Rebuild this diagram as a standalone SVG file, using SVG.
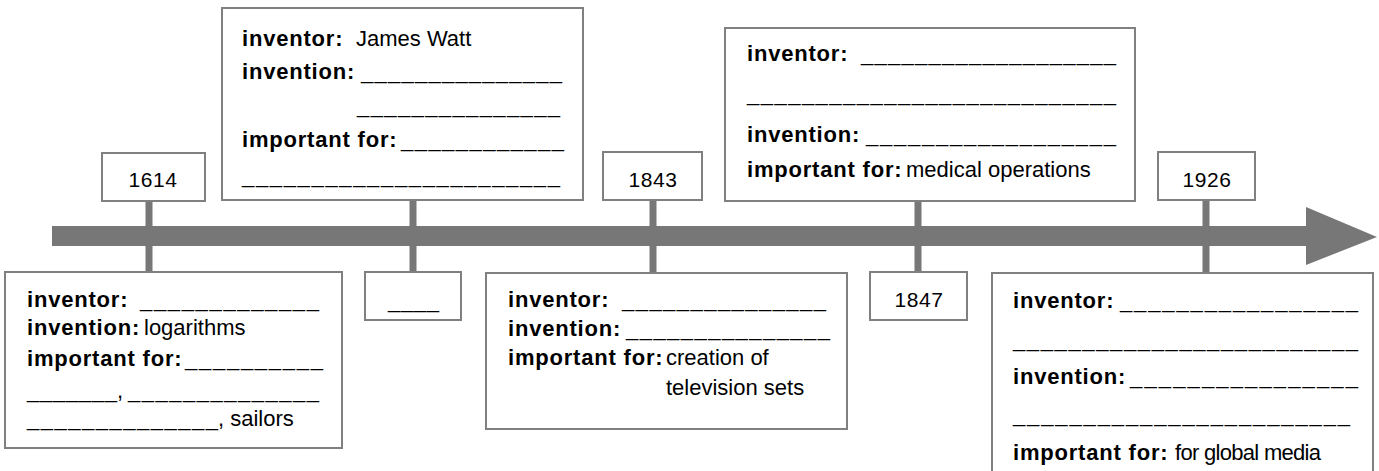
<svg xmlns="http://www.w3.org/2000/svg" width="1379" height="471" viewBox="0 0 1379 471">
<style>
text{font-family:"Liberation Sans",Arial,sans-serif;font-size:22px;fill:#000}
.b{font-weight:bold;letter-spacing:0.8px}
.y{font-size:21px;letter-spacing:0.6px;text-anchor:middle}
.box{fill:#fff;stroke:#808080;stroke-width:2}
.tick{stroke:#777;stroke-width:7}
</style>
<rect width="1379" height="471" fill="#fff"/>
<g id="connectors">
<rect x="52" y="226" width="1256" height="20" fill="#777"/>
<polygon points="1306,207 1377,237 1306,265" fill="#777"/>
<line class="tick" x1="149" y1="201" x2="149" y2="272"/>
<line class="tick" x1="413" y1="200" x2="413" y2="272"/>
<line class="tick" x1="653" y1="200" x2="653" y2="273"/>
<line class="tick" x1="918" y1="201" x2="918" y2="272"/>
<line class="tick" x1="1206" y1="200" x2="1206" y2="273"/>
</g>
<g id="y1614">
<rect class="box" x="102" y="153" width="103" height="48"/>
<text class="y" x="153" y="187">1614</text>
</g>
<g id="logarithms">
<rect class="box" x="5" y="272" width="337" height="176"/>
<text class="b" x="27" y="307">inventor:</text>
<text x="140" y="307" textLength="179" lengthAdjust="spacing">_____________</text>
<text class="b" x="27" y="335">invention:</text>
<text x="144" y="335">logarithms</text>
<text class="b" x="27" y="366">important for:</text>
<text x="185" y="366" textLength="138" lengthAdjust="spacing">__________</text>
<text x="27" y="398" textLength="90" lengthAdjust="spacing">_______</text>
<text x="117" y="398">,</text>
<text x="128" y="398" textLength="191" lengthAdjust="spacing">______________</text>
<text x="27" y="426" textLength="191" lengthAdjust="spacing">______________</text>
<text x="218" y="426">, sailors</text>
</g>
<g id="watt">
<rect class="box" x="222" y="8" width="361" height="192"/>
<text class="b" x="242" y="46">inventor:</text>
<text x="356" y="46">James Watt</text>
<text class="b" x="242" y="79">invention:</text>
<text x="361" y="79" textLength="201" lengthAdjust="spacing">_______________</text>
<text x="357" y="113" textLength="203" lengthAdjust="spacing">_______________</text>
<text class="b" x="242" y="147">important for:</text>
<text x="401" y="147" textLength="163" lengthAdjust="spacing">____________</text>
<text x="242" y="183" textLength="318" lengthAdjust="spacing">_______________________</text>
</g>
<g id="yblank">
<rect class="box" x="365" y="272" width="96" height="48"/>
<text x="388" y="308" textLength="51" lengthAdjust="spacing">____</text>
</g>
<g id="y1843">
<rect class="box" x="603" y="152" width="99" height="48"/>
<text class="y" x="653" y="187">1843</text>
</g>
<g id="television">
<rect class="box" x="486" y="273" width="361" height="156"/>
<text class="b" x="508" y="307">inventor:</text>
<text x="622" y="307" textLength="204" lengthAdjust="spacing">_______________</text>
<text class="b" x="508" y="336">invention:</text>
<text x="626" y="336" textLength="204" lengthAdjust="spacing">_______________</text>
<text class="b" x="508" y="365">important for:</text>
<text x="666" y="365">creation of</text>
<text x="666" y="395">television sets</text>
</g>
<g id="medical">
<rect class="box" x="725" y="28" width="410" height="173"/>
<text class="b" x="747" y="61">inventor:</text>
<text x="861" y="61" textLength="255" lengthAdjust="spacing">___________________</text>
<text x="747" y="101" textLength="369" lengthAdjust="spacing">___________________________</text>
<text class="b" x="747" y="142">invention:</text>
<text x="866" y="142" textLength="250" lengthAdjust="spacing">__________________</text>
<text class="b" x="747" y="177">important for:</text>
<text x="906" y="177">medical operations</text>
</g>
<g id="y1847">
<rect class="box" x="870" y="272" width="97" height="48"/>
<text class="y" x="919" y="307">1847</text>
</g>
<g id="y1926">
<rect class="box" x="1158" y="152" width="97" height="48"/>
<text class="y" x="1207" y="187">1926</text>
</g>
<g id="media">
<rect class="box" x="992" y="273" width="381" height="220"/>
<text class="b" x="1013" y="308">inventor:</text>
<text x="1120" y="308" textLength="238" lengthAdjust="spacing">_________________</text>
<text x="1013" y="347" textLength="345" lengthAdjust="spacing">_________________________</text>
<text class="b" x="1013" y="384">invention:</text>
<text x="1130" y="384" textLength="228" lengthAdjust="spacing">________________</text>
<text x="1013" y="422" textLength="337" lengthAdjust="spacing">________________________</text>
<text class="b" x="1013" y="460">important for:</text>
<text x="1175" y="460" textLength="146" lengthAdjust="spacing">for global media</text>
</g>
</svg>
